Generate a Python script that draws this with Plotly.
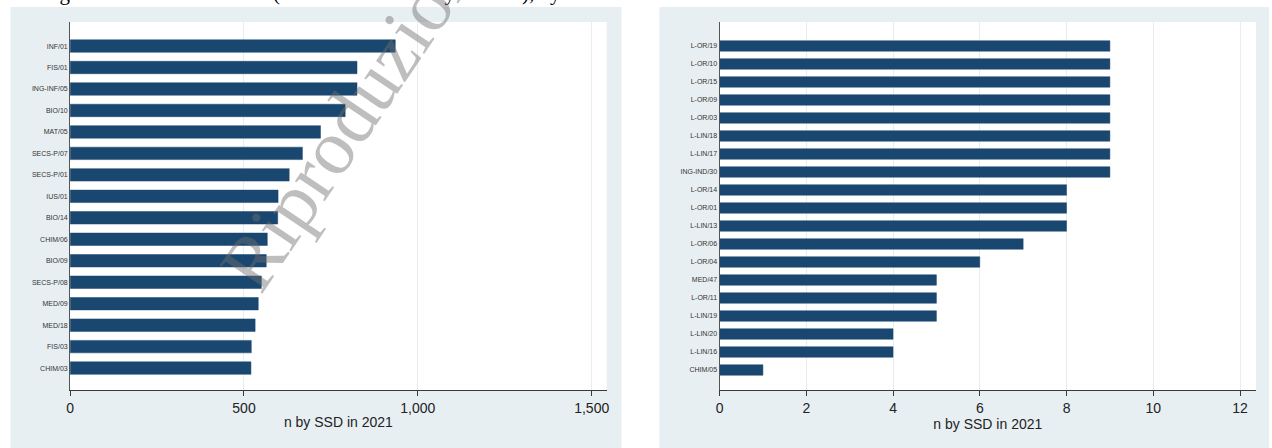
import plotly.graph_objects as go

W, H = 1272, 448

left_cats = ["INF/01", "FIS/01", "ING-INF/05", "BIO/10", "MAT/05", "SECS-P/07", "SECS-P/01",
             "IUS/01", "BIO/14", "CHIM/06", "BIO/09", "SECS-P/08", "MED/09", "MED/18",
             "FIS/03", "CHIM/03"]
left_vals = [935, 825, 825, 791, 720, 668, 630, 598, 597, 567, 564, 550, 541, 532, 521, 520]

right_cats = ["L-OR/19", "L-OR/10", "L-OR/15", "L-OR/09", "L-OR/03", "L-LIN/18", "L-LIN/17",
              "ING-IND/30", "L-OR/14", "L-OR/01", "L-LIN/13", "L-OR/06", "L-OR/04", "MED/47",
              "L-OR/11", "L-LIN/19", "L-LIN/20", "L-LIN/16", "CHIM/05"]
right_vals = [9, 9, 9, 9, 9, 9, 9, 9, 8, 8, 8, 7, 6, 5, 5, 5, 4, 4, 1]

left_ticks = [0, 500, 1000, 1500]
left_ticktext = ["0", "500", "1,000", "1,500"]
right_ticks = [0, 2, 4, 6, 8, 10, 12]

axis_title = "n by SSD in 2021"
top_text = "Figure 4: Ateneo resources (Data from university records), by SSD in 2021"
watermark = "Riproduzione"

BAR = "#1a476f"
PANEL = "#e8eff2"
GRID = "#e6eef1"

def px(x):
    return x / W

def py(y):
    return 1 - y / H

fig = go.Figure()
fig.add_trace(go.Bar(x=left_vals, y=left_cats, orientation="h", marker_color=BAR,
                     marker_line=dict(color=BAR, width=0.5), width=0.58,
                     xaxis="x", yaxis="y", showlegend=False))
fig.add_trace(go.Bar(x=right_vals, y=right_cats, orientation="h", marker_color=BAR,
                     marker_line=dict(color=BAR, width=0.5), width=0.58,
                     xaxis="x2", yaxis="y2", showlegend=False))

ydom = [py(390), py(22)]
common_x = dict(showline=True, linecolor="#3a3a3a", linewidth=1, ticks="outside",
                ticklen=5, tickcolor="#3a3a3a", showgrid=True, gridcolor=GRID, gridwidth=1,
                zeroline=False, tickfont=dict(family="Liberation Sans, Arial", size=14, color="#222"),
                title=dict(text=axis_title, font=dict(family="Liberation Sans, Arial", size=14, color="#222"),
                           standoff=2))
common_y = dict(showline=True, linecolor="#555", linewidth=1, ticks="", showgrid=False,
                tickfont=dict(family="Liberation Sans, Arial", size=7, color="#333"),
                type="category")

L = (66.5, 606)
R = (719.5, 1259)

fig.update_layout(
    width=W, height=H, margin=dict(l=0, r=0, t=0, b=0),
    paper_bgcolor="white", plot_bgcolor="rgba(0,0,0,0)", bargap=0.4,
    xaxis=dict(domain=[px(L[0]), px(L[1])], range=[0, 1543], tickvals=left_ticks,
               ticktext=left_ticktext, anchor="y", **common_x),
    yaxis=dict(domain=ydom, anchor="x", range=[15 + 1.02, -1.12],
               categoryorder="array", categoryarray=left_cats, **common_y),
    xaxis2=dict(domain=[px(R[0]), px(R[1])], range=[0, 12.37], tickvals=right_ticks,
                anchor="y2", **common_x),
    yaxis2=dict(domain=ydom, anchor="x2", range=[18 + 1.11, -1.33],
                categoryorder="array", categoryarray=right_cats, **common_y),
    shapes=[
        dict(type="rect", xref="paper", yref="paper", x0=px(6.5), x1=px(621), y0=0, y1=py(7),
             fillcolor=PANEL, line_width=0, layer="below"),
        dict(type="rect", xref="paper", yref="paper", x0=px(659), x1=1, y0=0, y1=py(7),
             fillcolor=PANEL, line_width=0, layer="below"),
        dict(type="rect", xref="paper", yref="paper", x0=px(L[0]), x1=px(L[1]), y0=ydom[0], y1=ydom[1],
             fillcolor="white", line_width=0, layer="below"),
        dict(type="rect", xref="paper", yref="paper", x0=px(R[0]), x1=px(R[1]), y0=ydom[0], y1=ydom[1],
             fillcolor="white", line_width=0, layer="below"),
    ],
    annotations=[
        dict(text=top_text, xref="paper", yref="paper", x=px(36), y=py(7), xanchor="left",
             yanchor="bottom", showarrow=False,
             font=dict(family="Liberation Serif, Times New Roman", size=21, color="#000")),
        dict(text=watermark, xref="paper", yref="paper", x=px(355), y=py(105),
             xanchor="center", yanchor="middle", showarrow=False, textangle=-56,
             font=dict(family="Liberation Serif, Times New Roman", size=78,
                       color="rgba(110,110,110,0.45)")),
    ],
)

fig.write_html("out.html")
